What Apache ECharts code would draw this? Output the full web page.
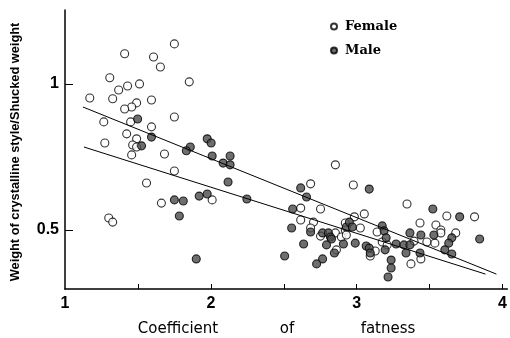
<!DOCTYPE html>
<html>
<head>
<meta charset="utf-8">
<script src="https://cdn.jsdelivr.net/npm/echarts@6/dist/echarts.min.js"></script>
<style>html,body{margin:0;padding:0;background:#fff}#c{width:510px;height:338px}</style>
</head>
<body>
<div id="c"></div>
<script>
const xTickValues = [1.5, 2, 2.5, 3, 3.5, 4];
const xLabelValues = [1, 2, 3, 4];
const yLabelValues = [0.5, 1];
const femaleData = [
  [1.75,1.137],[1.409,1.103],[1.607,1.092],[1.654,1.058],[1.307,1.021],[1.511,1.0],[1.429,0.993],[1.368,0.979],
  [1.852,1.007],[1.17,0.952],[1.327,0.949],[1.593,0.945],[1.491,0.935],[1.457,0.921],[1.409,0.914],[1.75,0.887],
  [1.266,0.87],[1.45,0.87],[1.593,0.853],[1.423,0.829],[1.491,0.812],[1.273,0.798],[1.464,0.791],[1.491,0.784],
  [1.457,0.757],[1.682,0.76],[1.75,0.702],[1.559,0.661],[1.661,0.592],[1.3,0.541],[1.327,0.527],[2.009,0.603],
  [2.854,0.723],[2.684,0.658],[2.616,0.575],[2.752,0.572],[2.616,0.534],[2.704,0.527],[2.684,0.507],[2.752,0.479],
  [2.854,0.49],[2.895,0.476],[2.922,0.524],[2.922,0.5],[2.861,0.432],[2.977,0.654],[3.052,0.555],[2.984,0.545],
  [3.025,0.507],[2.929,0.483],[3.14,0.493],[3.175,0.459],[3.127,0.428],[3.093,0.411],[3.209,0.449],[3.345,0.589],
  [3.434,0.524],[3.393,0.462],[3.372,0.384],[3.618,0.548],[3.808,0.545],[3.679,0.49],[3.543,0.517],[3.577,0.5],
  [3.577,0.49],[3.481,0.459],[3.536,0.455],[3.44,0.401]
];
const maleData = [
  [1.498,0.88],[1.593,0.818],[1.525,0.788],[1.859,0.784],[1.832,0.771],[1.975,0.812],[2.002,0.798],[2.009,0.753],
  [2.132,0.753],[2.084,0.729],[2.132,0.723],[2.118,0.664],[2.247,0.606],[1.75,0.603],[1.811,0.599],[1.92,0.616],
  [1.975,0.623],[1.784,0.548],[1.9,0.401],
  [2.616,0.644],[2.656,0.613],[2.561,0.572],[2.554,0.507],[2.684,0.493],[2.766,0.49],[2.806,0.49],[2.82,0.476],
  [2.827,0.469],[2.929,0.51],[2.636,0.452],[2.793,0.449],[2.909,0.452],[2.847,0.421],[2.506,0.411],[2.766,0.401],
  [2.725,0.384],
  [3.086,0.64],[2.95,0.527],[2.97,0.51],[2.99,0.455],[3.175,0.514],[3.188,0.497],[3.202,0.473],[3.065,0.445],
  [3.086,0.438],[3.093,0.421],[3.27,0.452],[3.195,0.432],[3.236,0.397],[3.236,0.37],[3.215,0.339],[3.365,0.49],
  [3.44,0.483],[3.324,0.449],[3.365,0.449],[3.338,0.421],[3.434,0.421],
  [3.522,0.572],[3.706,0.545],[3.843,0.469],[3.652,0.473],[3.631,0.455],[3.529,0.483],[3.604,0.432],[3.652,0.418]
];
const upperLine = [[1.123,0.921],[3.958,0.349]];
const lowerLine = [[1.13,0.784],[3.883,0.349]];
const seriesNames = ['Female', 'Male'];
const xTitleWords = ['Coefficient', 'of', 'fatness'];
const yTitle = 'Weight of crystalline style/Shucked weight';

const chart = echarts.init(document.getElementById('c'), null, {renderer: 'canvas'});
chart.setOption({
  animation: false,
  backgroundColor: '#fff',
  grid: {left: 65, right: 0, top: 10, bottom: 49, containLabel: false},
  xAxis: {
    type: 'value', min: 1, max: 4.033,
    axisLine: {show: true, lineStyle: {color: '#000', width: 1.5}},
    axisTick: {show: true, inside: true, length: 5, customValues: xTickValues, lineStyle: {color: '#000', width: 1}},
    axisLabel: {customValues: xLabelValues, margin: 7, color: '#000', fontFamily: 'Liberation Sans', fontWeight: 'bold', fontSize: 16},
    splitLine: {show: false}
  },
  yAxis: {
    type: 'value', min: 0.298, max: 1.253,
    axisLine: {show: true, lineStyle: {color: '#000', width: 1.5}},
    axisTick: {show: true, inside: true, length: 8, customValues: yLabelValues, lineStyle: {color: '#000', width: 1}},
    axisLabel: {customValues: yLabelValues, margin: 6, color: '#000', fontFamily: 'Liberation Sans', fontWeight: 'bold', fontSize: 16},
    splitLine: {show: false}
  },
  legend: {
    data: seriesNames, orient: 'vertical', left: 325, top: 15,
    itemWidth: 6, itemHeight: 6, itemGap: 11, icon: 'circle',
    textStyle: {fontFamily: 'DejaVu Serif', fontWeight: 'bold', fontSize: 13, color: '#000', padding: [0,0,0,3]}
  },
  graphic: [
    {type: 'text', x: 178, y: 329, style: {text: xTitleWords[0], font: '15px "DejaVu Sans"', fill: '#000', align: 'center', verticalAlign: 'middle'}},
    {type: 'text', x: 287, y: 329, style: {text: xTitleWords[1], font: '15px "DejaVu Sans"', fill: '#000', align: 'center', verticalAlign: 'middle'}},
    {type: 'text', x: 388, y: 329, style: {text: xTitleWords[2], font: '15px "DejaVu Sans"', fill: '#000', align: 'center', verticalAlign: 'middle'}},
    {type: 'text', x: 15, y: 152, rotation: Math.PI / 2, style: {text: yTitle, font: 'bold 12.8px "Liberation Sans"', fill: '#000', align: 'center', verticalAlign: 'middle'}}
  ],
  series: [
    {name: seriesNames[0], type: 'scatter', data: femaleData, symbol: 'circle', symbolSize: 8, z: 3,
      itemStyle: {color: '#fff', borderColor: '#000', borderWidth: 1.1}},
    {name: seriesNames[1], type: 'scatter', data: maleData, symbol: 'circle', symbolSize: 8, z: 3,
      itemStyle: {color: '#4a4a4a', borderColor: '#000', borderWidth: 1.1}},
    {name: 'upper', type: 'line', data: upperLine, symbol: 'none', z: 4, lineStyle: {color: '#000', width: 1}},
    {name: 'lower', type: 'line', data: lowerLine, symbol: 'none', z: 4, lineStyle: {color: '#000', width: 1}}
  ]
});
</script>
</body>
</html>
